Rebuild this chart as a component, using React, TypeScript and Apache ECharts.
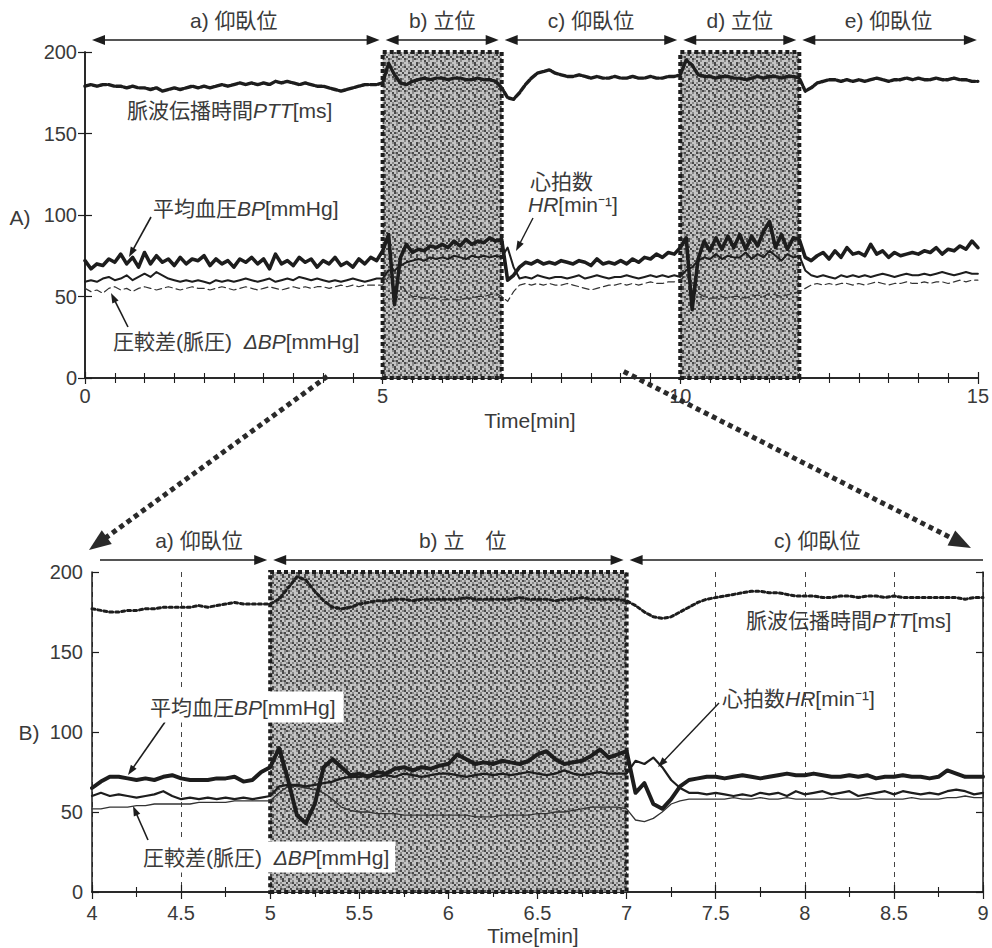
import React, { useEffect, useRef } from "react";
import * as echarts from "echarts";

// ---------------- data ----------------
// Chart A: 0–15 min, one value every 0.1 min
const A_START = 0;
const A_STEP = 0.1;
const pttA = [
  179, 180, 179, 180, 180, 179, 179, 178, 179, 178,
  178, 177, 178, 176, 177, 178, 177, 178, 179, 178,
  179, 178, 179, 180, 179, 180, 181, 180, 181, 180,
  181, 180, 182, 181, 182, 181, 180, 181, 180, 179,
  179, 178, 177, 176, 177, 178, 179, 180, 180, 180,
  181, 193, 186, 181, 180, 182, 183, 184, 183, 184,
  184, 183, 184, 184, 183, 183, 184, 183, 183, 182,
  178, 172, 171, 175, 180, 184, 187, 188, 189, 187,
  186, 185, 185, 186, 185, 184, 185, 184, 184, 185,
  184, 184, 185, 184, 184, 185, 184, 184, 185, 185,
  186, 195, 192, 186, 185, 185, 184, 185, 185, 184,
  184, 183, 184, 185, 184, 185, 185, 184, 185, 185,
  184, 176, 178, 181, 182, 183, 183, 182, 183, 182,
  183, 182, 183, 184, 183, 182, 183, 183, 184, 183,
  184, 183, 183, 184, 183, 183, 184, 183, 183, 182, 182,
];
const bpA = [
  72, 67, 70, 69, 73, 71, 76, 70, 74, 68,
  77, 70, 75, 71, 73, 69, 74, 70, 73, 72,
  75, 69, 73, 70, 72, 68, 73, 71, 74, 70,
  73, 67, 76, 70, 72, 69, 74, 71, 73, 68,
  72, 70, 74, 69, 71, 68, 73, 70, 74, 72,
  78, 88, 45, 74, 82, 77, 79, 78, 81, 80,
  82, 80, 84, 81, 85, 82, 84, 83, 86, 84,
  85, 60, 63, 68, 71, 70, 72, 70, 71, 70,
  72, 71, 70, 72, 71, 69, 73, 70, 71, 70,
  72, 70, 73, 71, 74, 73, 76, 74, 77, 76,
  80, 86, 42, 73, 84, 78, 86, 79, 87, 80,
  88, 79, 87, 81, 90, 96, 80, 88, 79, 86,
  85, 74, 72, 75, 77, 73, 78, 74, 80, 76,
  77, 75, 82, 76, 78, 74, 77, 75, 76, 77,
  76, 78, 77, 80, 76, 79, 78, 81, 79, 84, 80,
];
const hrA = [
  59, 60, 59, 61, 62, 60, 61, 63, 60, 62,
  64, 62, 65, 63, 61, 60, 59, 60, 59, 60,
  59, 58, 60, 59, 60, 59, 60, 61, 60, 59,
  60, 61, 59, 60, 61, 60, 62, 61, 60, 61,
  60, 59, 60, 59, 60, 61, 60, 59, 60, 61,
  61, 66, 66, 69, 71, 72, 73, 72, 74, 73,
  74, 73, 75, 74, 73, 75, 74, 75, 74, 75,
  74, 80, 68, 61, 62, 61, 63, 62, 61, 62,
  62, 61, 62, 63, 61, 62, 63, 62, 61, 62,
  62, 63, 62, 61, 62, 63, 62, 63, 62, 63,
  62, 66, 68, 72, 74, 73, 76, 73, 75, 74,
  74, 77, 73, 76, 74, 78, 75, 72, 76, 74,
  75, 66, 63, 62, 63, 62, 61, 63, 62, 63,
  62, 63, 62, 63, 64, 63, 62, 63, 64, 63,
  63, 64, 63, 64, 65, 64, 63, 64, 65, 64, 64,
];
const dbpA = [
  55, 53, 54, 52, 55, 56, 54, 55, 53, 55,
  56, 55, 54, 55, 56, 55, 54, 55, 56, 55,
  55, 54, 55, 56, 55, 54, 55, 56, 55, 54,
  55, 56, 55, 54, 55, 56, 55, 56, 55, 56,
  56, 55, 56, 57, 56, 57, 56, 57, 57, 57,
  57, 62, 62, 58, 53, 50, 50, 49, 49, 49,
  48, 48, 48, 48, 49, 49, 50, 50, 51, 52,
  50, 47, 53, 57, 58, 57, 58, 57, 58, 57,
  57, 58, 57, 56, 55, 54, 55, 56, 57, 57,
  58, 57, 58, 57, 58, 59, 58, 58, 59, 59,
  60, 63, 58, 52, 50, 49, 49, 50, 49, 50,
  50, 49, 50, 51, 50, 52, 51, 50, 51, 52,
  53, 55, 57, 58, 57, 58, 57, 58, 58, 57,
  58, 57, 58, 59, 58, 57, 58, 58, 59, 58,
  58, 59, 58, 59, 59, 58, 59, 60, 59, 60, 60,
];

// Chart B: 4–9 min, one value every 0.05 min
const B_START = 4;
const B_STEP = 0.05;
const pttB = [
  177, 176, 175, 175, 176, 176, 177, 177, 178, 178,
  178, 178, 179, 178, 179, 180, 181, 180, 180, 180,
  180, 183, 190, 197, 195, 188, 182, 178, 177, 178,
  180, 181, 182, 182, 183, 183, 182, 183, 183, 183,
  183, 183, 184, 183, 183, 183, 183, 183, 184, 183,
  183, 183, 182, 183, 183, 184, 183, 183, 183, 183,
  182, 179, 175, 172, 171, 172, 175, 178, 181, 183,
  184, 185, 186, 187, 188, 188, 187, 187, 186, 185,
  185, 185, 184, 184, 185, 185, 184, 185, 185, 184,
  185, 184, 184, 184, 184, 184, 184, 184, 183, 184,
  184,
];
const bpB = [
  65, 69, 72, 72, 71, 70, 71, 70, 72, 73,
  71, 70, 70, 70, 71, 71, 72, 69, 70, 75,
  78, 90, 70, 48, 43, 55, 78, 83, 78, 73,
  74, 72, 75, 74, 77, 78, 76, 78, 77, 79,
  80, 86, 83, 80, 81, 80, 82, 81, 80, 82,
  86, 88, 83, 80, 81, 82, 85, 89, 84, 86,
  88, 62, 68, 55, 52, 58, 66, 70, 71, 72,
  72, 71, 72, 73, 72, 71, 72, 73, 74, 73,
  73, 74, 73, 72, 72, 73, 72, 73, 71, 72,
  72, 73, 72, 72, 71, 72, 76, 74, 72, 72,
  72,
];
const hrB = [
  60, 62, 60, 61, 60, 59, 60, 61, 63, 60,
  58, 59, 58, 59, 58, 59, 58, 59, 58, 59,
  60, 66, 67, 67, 66, 67, 68, 69, 71, 72,
  72, 73, 72, 73, 72, 74, 73, 72, 73, 74,
  74, 73, 72, 73, 74, 73, 74, 73, 74, 75,
  74, 73, 74, 76, 74, 73, 74, 75, 74, 74,
  74, 82, 80, 84, 78, 70, 65, 62, 62, 61,
  62, 61, 60, 61, 60, 62, 61, 62, 60, 63,
  61, 62, 63, 61, 62, 63, 60, 61, 62, 63,
  61, 63, 62, 61, 62, 61, 63, 64, 63, 61,
  62,
];
const dbpB = [
  52, 52, 53, 53, 53, 54, 54, 55, 55, 55,
  55, 55, 56, 56, 56, 56, 57, 57, 57, 57,
  57, 62, 66, 66, 65, 64, 62, 58, 53, 51,
  50, 50, 49, 49, 49, 48, 48, 48, 48, 48,
  48, 48, 48, 47, 47, 47, 48, 48, 48, 48,
  49, 49, 50, 50, 51, 52, 53, 53, 53, 53,
  52, 45, 44, 46, 50, 55, 57, 58, 58, 58,
  58, 58, 59, 58, 58, 59, 58, 58, 59, 58,
  58, 58, 58, 59, 58, 58, 58, 59, 58, 58,
  58, 58, 59, 58, 58, 58, 59, 59, 60, 59,
  59,
];

// standing periods (shaded) and posture phases
const standA = [[5, 7], [10, 12]];
const standB = [[5, 7]];
const phasesA = [
  { from: 0, to: 5, label: "a) 仰臥位" },
  { from: 5, to: 7, label: "b) 立位" },
  { from: 7, to: 10, label: "c) 仰臥位" },
  { from: 10, to: 12, label: "d) 立位" },
  { from: 12, to: 15, label: "e) 仰臥位" },
];
const phasesB = [
  { from: 4, to: 5, label: "a) 仰臥位", at: 4.6 },
  { from: 5, to: 7, label: "b) 立　位", at: 6.08 },
  { from: 7, to: 9, label: "c) 仰臥位", at: 8.07 },
];
const xRangeA = [0, 15];
const xRangeB = [4, 9];
const yRange = [0, 200];

// ---------------- styling ----------------
const INK = "#1d1d1d";
const TXT = "#3a3a3a";
const SHADE = "#a2a2a2";
const FONT = '"Liberation Sans", "Noto Sans CJK JP", sans-serif';

// stipple texture for the shaded (standing) areas
const STIPPLE = [
  "#.:..#:.",
  ".:#.:..#",
  ":..#.#:.",
  "#.:.:..:",
  ".#..#:#.",
  ":.#:..:#",
  "..:.#.:.",
  "#:..:#..",
];
const STIPPLE_COLORS: Record<string, string> = { "#": "#4a4a4a", ":": "#8a8a8a", ".": "#c4c4c4" };

function makeStipple(): any {
  try {
    const c = document.createElement("canvas");
    c.width = STIPPLE[0].length * 2;
    c.height = STIPPLE.length * 2;
    const g = c.getContext("2d");
    if (!g) return SHADE;
    STIPPLE.forEach((row, y) =>
      row.split("").forEach((ch, x) => {
        g.fillStyle = STIPPLE_COLORS[ch];
        g.fillRect(x * 2, y * 2, 2, 2);
      })
    );
    return { image: c, repeat: "repeat" };
  } catch (e) {
    return SHADE;
  }
}

const pairs = (start: number, step: number, vals: number[]) =>
  vals.map((v, i) => [Math.round((start + i * step) * 1000) / 1000, v]);

const RICH = {
  n: { fontSize: 21, fontFamily: FONT, fill: TXT },
  i: { fontSize: 21, fontFamily: FONT, fill: TXT, fontStyle: "italic" },
};

export default function App() {
  const ref = useRef<HTMLDivElement>(null);

  useEffect(() => {
    if (!ref.current) return;
    const chart = echarts.init(ref.current, undefined, { renderer: "svg" });
    const shadeFill = makeStipple();

    const axisLine = { show: true, lineStyle: { color: INK, width: 1.5 } };
    const tick = (len: number) => ({ show: true, inside: true, length: len, lineStyle: { color: INK, width: 1.2 } });
    const lbl = (margin: number) => ({ fontSize: 20, color: TXT, fontFamily: FONT, margin });

    const xA = (pos: string, labels: boolean) => ({
      gridIndex: 0, type: "value", position: pos, min: xRangeA[0], max: xRangeA[1], interval: 5,
      axisLine, axisTick: tick(6),
      minorTick: { show: true, splitNumber: 10, length: 5, lineStyle: { color: INK, width: 1.1 } },
      splitLine: { show: false }, minorSplitLine: { show: false },
      axisLabel: labels ? lbl(8) : { show: false },
    });
    const xB = (pos: string, labels: boolean) => ({
      gridIndex: 1, type: "value", position: pos, min: xRangeB[0], max: xRangeB[1], interval: 0.5,
      axisLine, axisTick: tick(7),
      minorTick: { show: true, splitNumber: 2, length: 5, lineStyle: { color: INK, width: 1.1 } },
      splitLine: labels ? { show: true, lineStyle: { color: "#444", width: 1, type: [5, 5] } } : { show: false },
      axisLabel: labels ? lbl(11) : { show: false },
    });
    const yAx = (grid: number, pos: string, labels: boolean) => ({
      gridIndex: grid, type: "value", position: pos, min: yRange[0], max: yRange[1], interval: 50,
      axisLine, axisTick: tick(7), splitLine: { show: false },
      axisLabel: labels ? lbl(grid === 0 ? 8 : 9) : { show: false },
    });

    const markArea = (spans: number[][]) => ({
      silent: true,
      itemStyle: { color: shadeFill, borderColor: INK, borderWidth: 4, borderType: [4, 3] },
      data: spans.map(([a, b]) => [{ xAxis: a, yAxis: yRange[0] }, { xAxis: b, yAxis: yRange[1] }]),
    });
    const ln = (name: string, data: number[][], xi: number, yi: number, lineStyle: any, extra: any = {}) => ({
      type: "line", name, data, xAxisIndex: xi, yAxisIndex: yi, symbol: "none", silent: true,
      lineStyle: { color: INK, cap: "round", join: "round", ...lineStyle }, ...extra,
    });

    chart.setOption({
      animation: false,
      backgroundColor: "#ffffff",
      grid: [
        { left: 85, top: 52, width: 897, height: 326 },
        { left: 92, top: 572, width: 891, height: 320 },
      ],
      xAxis: [xA("bottom", true), xA("top", false), xB("bottom", true), xB("top", false)],
      yAxis: [yAx(0, "left", true), yAx(0, "right", false), yAx(1, "left", true), yAx(1, "right", false)],
      series: [
        ln("PTT A", pairs(A_START, A_STEP, pttA), 0, 0, { width: 3.4, type: [6, 2] }, { markArea: markArea(standA) }),
        ln("ΔBP A", pairs(A_START, A_STEP, dbpA), 0, 0, { width: 1.2, type: [7, 4], color: "#333" }),
        ln("HR A", pairs(A_START, A_STEP, hrA), 0, 0, { width: 2 }),
        ln("BP A", pairs(A_START, A_STEP, bpA), 0, 0, { width: 3.6 }),
        ln("PTT B", pairs(B_START, B_STEP, pttB), 2, 2, { width: 3, type: [3, 3] }, { markArea: markArea(standB) }),
        ln("ΔBP B", pairs(B_START, B_STEP, dbpB), 2, 2, { width: 1.3, color: "#333" }),
        ln("HR B", pairs(B_START, B_STEP, hrB), 2, 2, { width: 2.2 }),
        ln("BP B", pairs(B_START, B_STEP, bpB), 2, 2, { width: 4 }),
      ],
    });

    const pA = (t: number, v: number) => chart.convertToPixel({ xAxisIndex: 0, yAxisIndex: 0 }, [t, v]) as number[];
    const pB = (t: number, v: number) => chart.convertToPixel({ xAxisIndex: 2, yAxisIndex: 2 }, [t, v]) as number[];

    const els: any[] = [];
    const seg = (x1: number, y1: number, x2: number, y2: number, w: number, color = INK, dash?: number[]) =>
      els.push({ type: "line", z: 100, silent: true, shape: { x1, y1, x2, y2 }, style: { stroke: color, lineWidth: w, lineDash: dash } });
    const head = (xf: number, yf: number, xt: number, yt: number, len: number, wid: number, color = INK) => {
      const dx = xt - xf, dy = yt - yf, L = Math.hypot(dx, dy) || 1;
      const ux = dx / L, uy = dy / L;
      const bx = xt - ux * len, by = yt - uy * len;
      const px = (-uy * wid) / 2, py = (ux * wid) / 2;
      els.push({ type: "polygon", z: 100, silent: true, shape: { points: [[xt, yt], [bx + px, by + py], [bx - px, by - py]] }, style: { fill: color } });
      return [bx + ux * 1, by + uy * 1];
    };
    const arrow = (x1: number, y1: number, x2: number, y2: number, o: any = {}) => {
      const { w = 1.5, len = 10, wid = 7, color = INK, dash, h1 = false, h2 = true } = o;
      let sx = x1, sy = y1, ex = x2, ey = y2;
      if (h2) [ex, ey] = head(x1, y1, x2, y2, len, wid, color);
      if (h1) [sx, sy] = head(x2, y2, x1, y1, len, wid, color);
      seg(sx, sy, ex, ey, w, color, dash);
    };
    const text = (x: number, y: number, parts: [string, boolean][], o: any = {}) =>
      els.push({
        type: "text", z: 101, silent: true, x, y,
        style: {
          text: parts.map(([s, it]) => `{${it ? "i" : "n"}|${s}}`).join(""),
          rich: RICH, fontSize: 21, fontFamily: FONT, fill: TXT,
          textAlign: o.align || "left", textVerticalAlign: "middle",
          backgroundColor: o.bg, padding: o.pad,
        },
      });

    // phase arrows, chart A
    phasesA.forEach((ph, i) => {
      const x1 = pA(ph.from, 0)[0] + (i === 0 ? 7 : 3);
      const x2 = pA(ph.to, 0)[0] - (i === phasesA.length - 1 ? 1 : 3);
      arrow(x1, 40, x2, 40, { h1: true, h2: true, len: 13, wid: 10, w: 1.6 });
      text((pA(ph.from, 0)[0] + pA(ph.to, 0)[0]) / 2, 20, [[ph.label, false]], { align: "center" });
    });
    // phase arrows, chart B
    phasesB.forEach((ph, i) => {
      const first = i === 0, last = i === phasesB.length - 1;
      const x1 = pB(ph.from, 0)[0] + (first ? 8 : 3);
      const x2 = pB(ph.to, 0)[0] - (last ? 0 : 3);
      arrow(x1, 560, x2, 560, { h1: !first, h2: !last, len: 13, wid: 10, w: 1.6 });
      text(pB(ph.at, 0)[0], 540, [[ph.label, false]], { align: "center" });
    });

    // zoom arrows from A (4–9 min) to B
    const a4 = pA(4.07, 1), a9 = pA(9.05, 4);
    const b4 = pB(4, 200), b9 = pB(9, 200);
    arrow(a4[0], a4[1], b4[0] - 3, b4[1] - 22, { w: 5, dash: [5, 4], len: 22, wid: 17, color: "#2a2a2a" });
    arrow(a9[0], a9[1], b9[0] - 12, b9[1] - 24, { w: 5, dash: [5, 4], len: 22, wid: 17, color: "#2a2a2a" });

    // chart A annotations
    text(127, 110, [["脈波伝播時間", false], ["PTT", true], ["[ms]", false]]);
    text(153, 208, [["平均血圧", false], ["BP", true], ["[mmHg]", false]]);
    arrow(151, 217, 129, 257, { w: 1.6 });
    text(113, 341, [["圧較差(脈圧)  ", false], ["ΔBP", true], ["[mmHg]", false]]);
    arrow(128, 327, 111, 293, { w: 1.6 });
    text(530, 181, [["心拍数", false]]);
    text(528, 204, [["HR", true], ["[min⁻¹]", false]]);
    arrow(533, 218, 516, 251, { w: 1.4 });

    // chart B annotations
    text(746, 620, [["脈波伝播時間", false], ["PTT", true], ["[ms]", false]]);
    text(722, 698, [["心拍数", false], ["HR", true], ["[min⁻¹]", false]]);
    arrow(719, 703, 658, 767, { w: 1.4 });
    text(140, 707, [["平均血圧", false], ["BP", true], ["[mmHg]", false]], { bg: "#ffffff", pad: [5, 8, 5, 10] });
    arrow(165, 722, 128, 775, { w: 1.6 });
    text(133, 857, [["圧較差(脈圧)  ", false], ["ΔBP", true], ["[mmHg]", false]], { bg: "#ffffff", pad: [5, 6, 5, 10] });
    arrow(148, 840, 133, 806, { w: 1.6 });

    // panel letters and axis titles
    text(20, 217, [["A)", false]], { align: "center" });
    text(29, 732, [["B)", false]], { align: "center" });
    text(530, 420, [["Time[min]", false]], { align: "center" });
    text(533, 935, [["Time[min]", false]], { align: "center" });

    chart.setOption({ graphic: { elements: els } });

    return () => chart.dispose();
  }, []);

  return <div ref={ref} style={{ position: "absolute", left: 0, top: 0, width: 992, height: 948, background: "#fff" }} />;
}
